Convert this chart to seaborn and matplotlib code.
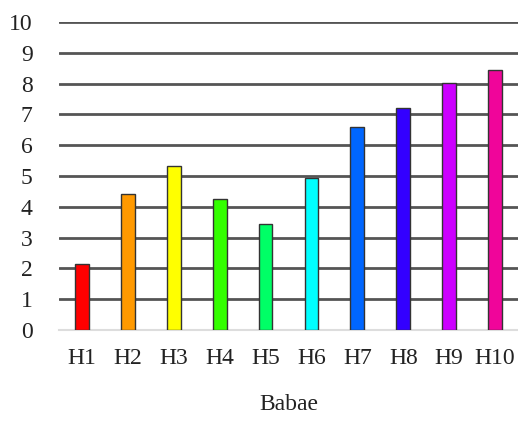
import matplotlib
matplotlib.use("Agg")
import matplotlib.pyplot as plt
import seaborn as sns
import pandas as pd

# Data
categories = ["H1", "H2", "H3", "H4", "H5", "H6", "H7", "H8", "H9", "H10"]
values = [2.13, 4.42, 5.33, 4.25, 3.45, 4.93, 6.58, 7.2, 8.02, 8.44]
colors = ["#ff0000", "#ff9900", "#ffff00", "#33ff00", "#00ff66",
          "#00ffff", "#0066ff", "#3300ff", "#cc00ff", "#f0059a"]
x_label = "Babae"

df = pd.DataFrame({"cat": categories, "val": values})

sns.set_style("white")
plt.rcParams["font.family"] = ["Liberation Serif", "DejaVu Serif"]

fig = plt.figure(figsize=(5.18, 4.23), dpi=100)
ax = fig.add_axes([0.114, 0.22, 0.886, 0.728])

sns.barplot(data=df, x="cat", y="val", hue="cat", palette=colors,
            saturation=1, legend=False, width=0.3, edgecolor="#333333",
            linewidth=1.0, ax=ax, zorder=3)

ax.set_ylim(0, 10)
ax.set_yticks(range(0, 11))
ax.set_xlim(-0.5, len(categories) - 0.5)
ax.yaxis.grid(True, color="#555555", linewidth=2.0, zorder=0)
ax.set_axisbelow(True)
for s in ["top", "right", "left"]:
    ax.spines[s].set_visible(False)
ax.spines["bottom"].set_color("#dddddd")
ax.spines["bottom"].set_linewidth(1.5)
ax.tick_params(axis="both", length=0, labelsize=17, colors="#222222")
ax.tick_params(axis="y", pad=19)
ax.tick_params(axis="x", pad=13)
ax.set_ylabel("")
ax.set_xlabel(x_label, fontsize=17, color="#222222", labelpad=18)

fig.savefig("out.png", dpi=100)
